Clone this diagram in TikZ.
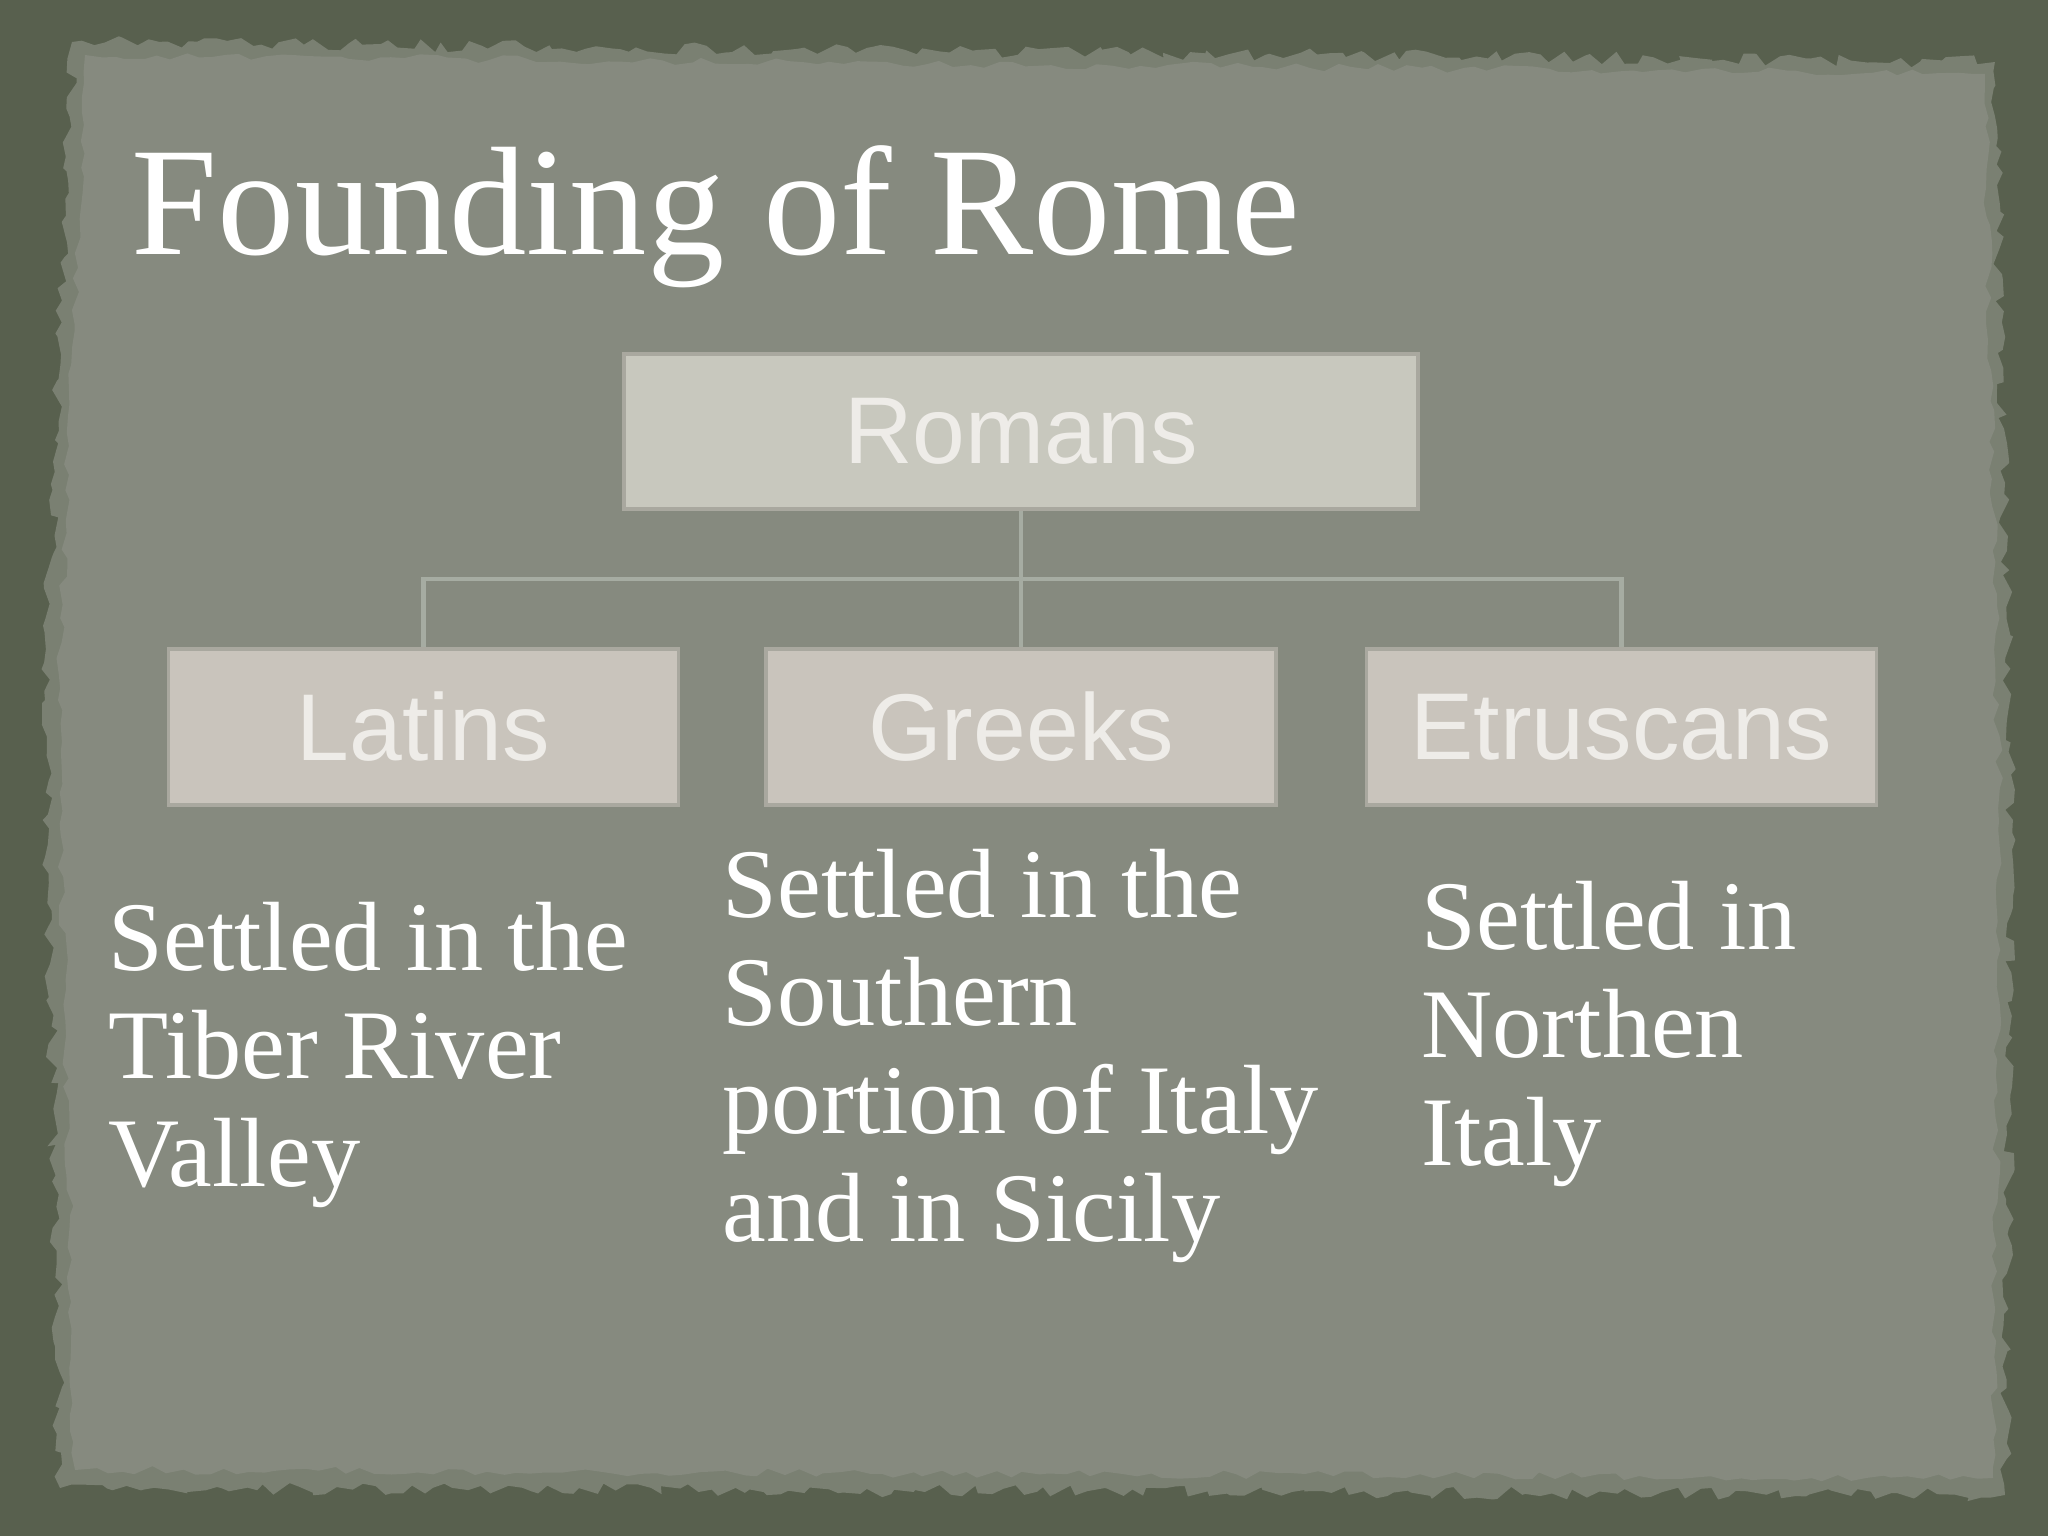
\documentclass[tikz,border=0pt]{standalone}
\usepackage{fontspec}
\setmainfont{Liberation Serif}
\newfontfamily\boxfont{Liberation Sans}
\usetikzlibrary{decorations.pathmorphing}
\definecolor{bgdark}{HTML}{58604E}
\definecolor{paper}{HTML}{868A7F}
\definecolor{paperedge}{HTML}{7A8072}
\definecolor{rootfill}{HTML}{C8C8BE}
\definecolor{kidfill}{HTML}{C9C4BC}
\definecolor{boxline}{HTML}{A9A89F}
\definecolor{boxtext}{HTML}{EEECE8}
\definecolor{treeline}{HTML}{A6ACA2}
\begin{document}
\begin{tikzpicture}[
    group/.style={draw=boxline, line width=1pt, fill=kidfill, minimum width=5.1cm,
      minimum height=1.56cm, inner sep=0pt, text=boxtext,
      font=\boxfont\fontsize{27}{30}\selectfont},
    note/.style={anchor=base west, align=left, inner sep=0pt, text=white,
      font=\fontsize{28}{30.7}\selectfont},
    link/.style={draw=treeline, line width=1.2pt}]
  \useasboundingbox (0,0) rectangle (20.48,-15.36);
  \fill[bgdark] (0,0) rectangle (20.48,-15.36);
  \pgfmathsetseed{7}
  \fill[paperedge, decorate, decoration={random steps, segment length=3pt, amplitude=1.8pt}]
    (0.72,-0.42) -- (19.95,-0.62) -- (20.12,-8.5) -- (20.05,-14.95)
    -- (0.6,-14.88) -- (0.45,-7) -- cycle;
  \fill[paper, decorate, decoration={random steps, segment length=4pt, amplitude=1.2pt}]
    (0.85,-0.55) -- (19.85,-0.74) -- (20.0,-8.5) -- (19.93,-14.78)
    -- (0.75,-14.7) -- (0.58,-7) -- cycle;

  \node[anchor=base west, inner sep=0pt, text=white, font=\fontsize{44}{48}\selectfont]
    (title) at (1.31,-2.55) {Founding of Rome};

  \node[group, fill=rootfill, minimum width=7.94cm, minimum height=1.55cm]
    (romans) at (10.21,-4.315) {Romans};
  \node[group] (latins) at (4.235,-7.27) {Latins};
  \node[group] (greeks) at (10.21,-7.27) {Greeks};
  \node[group] (etruscans) at (16.215,-7.27) {Etruscans};

  \coordinate (hub) at (10.21,-5.79);
  \begin{scope}[link]
    \draw (romans) -- (hub);
    \draw (greeks) -- (hub);
    \draw (latins) |- (hub);
    \draw (etruscans) |- (hub);
  \end{scope}

  \node[note] (latinsnote) at (1.08,-11.86) {Settled in the\\Tiber River\\Valley};
  \node[note] (greeksnote) at (7.22,-12.41) {Settled in the\\Southern\\portion of Italy\\and in Sicily};
  \node[note] (etruscansnote) at (14.21,-11.65) {Settled in\\Northen\\Italy};
\end{tikzpicture}
\end{document}
